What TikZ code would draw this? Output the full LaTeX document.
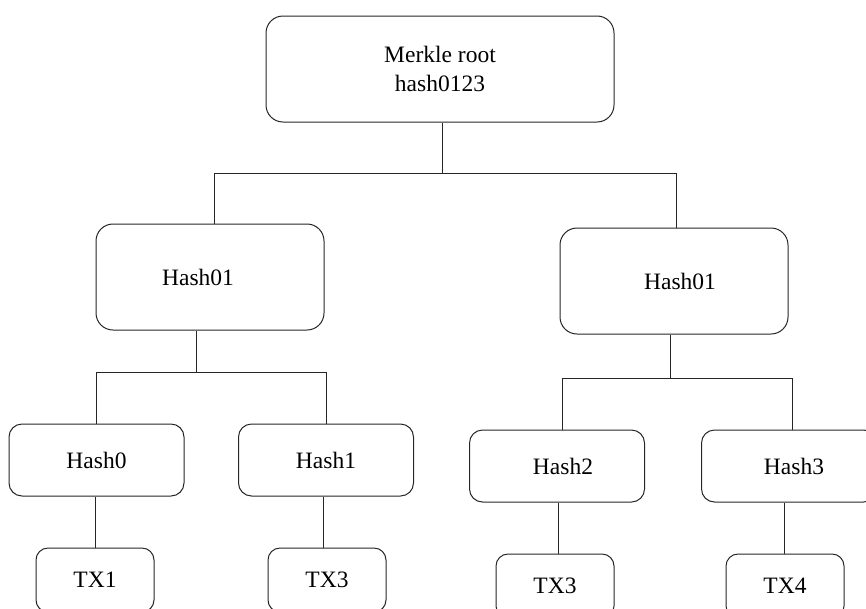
\documentclass[tikz,border=0pt]{standalone}
\usepackage{fontspec}
\setmainfont{Liberation Serif}
\begin{document}
\begin{tikzpicture}[x=1pt,y=-1pt,
  every node/.style={font=\fontsize{23.5}{28.2}\selectfont},
  box/.style={draw=black!85, line width=1pt, inner sep=0pt, align=center},
  bigbox/.style={box, rounded corners=17pt, minimum width=228pt, minimum height=106pt},
  hashbox/.style={box, rounded corners=13pt, minimum width=175pt, minimum height=72pt},
  txbox/.style={box, rounded corners=12pt, minimum width=118pt, minimum height=64pt},
  link/.style={draw=black!85, line width=1pt}]
\useasboundingbox (0,0) rectangle (866,608);
\clip (0,0) rectangle (866,608);

% root of the tree
\node[box, rounded corners=17pt, minimum width=348pt, minimum height=106pt]
  (root) at (440,69) {Merkle root\\hash0123};

% intermediate hashes
\node[bigbox, label={[xshift=-12pt]center:Hash01}] (h01l) at (210,277) {};
\node[bigbox, label={[xshift=6pt]center:Hash01}] (h01r) at (674,281) {};

% leaf hashes
\node[hashbox] (h0) at (96.5,460) {Hash0};
\node[hashbox] (h1) at (326,460) {Hash1};
\node[hashbox, label={[xshift=6pt]center:Hash2}] (h2) at (557,466) {};
\node[hashbox, label={[xshift=5pt]center:Hash3}] (h3) at (789,466) {};

% transactions
\node[txbox] (tx1) at (95,580) {TX1};
\node[txbox] (tx3a) at (327,580) {TX3};
\node[txbox] (tx3b) at (555,586) {TX3};
\node[txbox] (tx4) at (785,586) {TX4};

% branching points
\coordinate (b0) at (442,173);
\coordinate (b1) at (196,372);
\coordinate (b2) at (670,378);

% root level
\draw[link] (root.south -| b0) -- (b0);
\draw[link] (b0) -| ([xshift=4pt]h01l.north);
\draw[link] (b0) -| ([xshift=2pt]h01r.north);

% left subtree
\draw[link] (h01l.south -| b1) -- (b1);
\draw[link] (b1) -| (h0.north);
\draw[link] (b1) -| (h1.north);

% right subtree
\draw[link] (h01r.south -| b2) -- (b2);
\draw[link] (b2) -| ([xshift=5pt]h2.north);
\draw[link] (b2) -| ([xshift=3pt]h3.north);

% leaves
\draw[link] (h0.south -| tx1.north) -- (tx1.north);
\draw[link] ([xshift=-3pt]h1.south) -- ([xshift=-3pt]h1.south |- tx3a.north);
\draw[link] ([xshift=1pt]h2.south) -- ([xshift=1pt]h2.south |- tx3b.north);
\draw[link] ([xshift=-5pt]h3.south) -- ([xshift=-5pt]h3.south |- tx4.north);
\end{tikzpicture}
\end{document}
